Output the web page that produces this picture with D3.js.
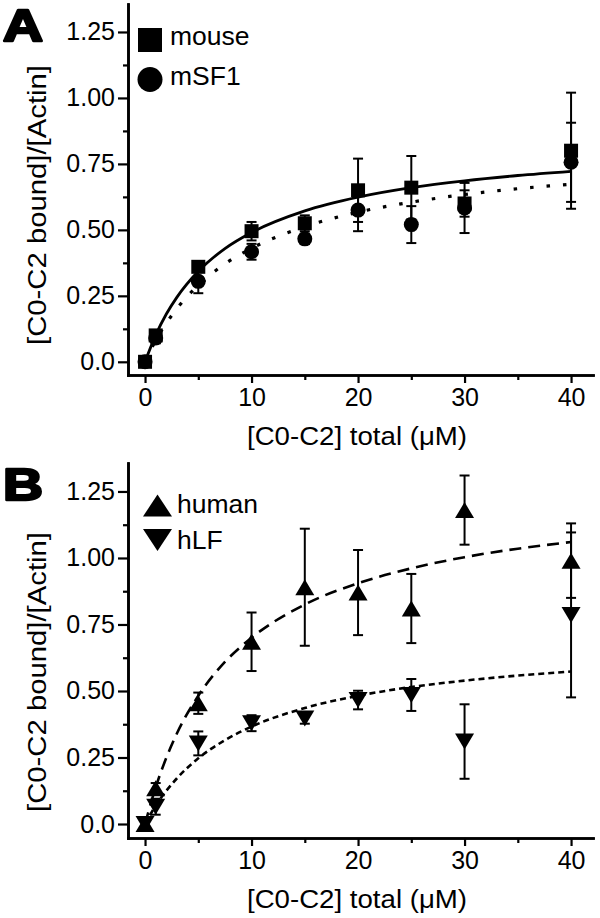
<!DOCTYPE html>
<html><head><meta charset="utf-8">
<script src="https://cdn.jsdelivr.net/npm/d3@7"></script>
<style>body{margin:0;background:#fff} text{font-family:"Liberation Sans",Arial,sans-serif;fill:#000}</style>
</head><body><svg id="c" width="600" height="918"></svg>
<script>
// ---- data ----
const conc = [0, 1, 5, 10, 15, 20, 25, 30, 40];
const mouseY   = [0, 0.10, 0.36, 0.495, 0.525, 0.65, 0.66, 0.60, 0.80];
const mouseErr = [0, 0.02, 0.02, 0.035, 0.03, 0.12, 0.12, 0.05, 0.22];
const msf1Y    = [0, 0.09, 0.305, 0.417, 0.466, 0.575, 0.52, 0.583, 0.756];
const msf1Err  = [0, 0.02, 0.045, 0.03, 0.02, 0.08, 0.07, 0.095, 0.15];
const humanY   = [0, 0.134, 0.454, 0.685, 0.89, 0.87, 0.81, 1.18, 0.99];
const humanErr = [0, 0.02, 0.04, 0.11, 0.22, 0.16, 0.13, 0.13, 0.14];
const hlfY     = [0, 0.065, 0.303, 0.379, 0.397, 0.466, 0.485, 0.31, 0.786];
const hlfErr   = [0, 0.03, 0.045, 0.03, 0.02, 0.035, 0.06, 0.14, 0.31];

// fitted curves
const fitX      = [0, 1, 2, 3, 5, 7.5, 10, 15, 20, 25, 30, 35, 40];
const mouseFit  = [0, 0.101, 0.181, 0.245, 0.343, 0.429, 0.490, 0.572, 0.624, 0.660, 0.686, 0.706, 0.722];
const msf1Fit   = [0, 0.081, 0.147, 0.202, 0.290, 0.371, 0.430, 0.512, 0.567, 0.605, 0.634, 0.656, 0.673];
const humanFit  = [0, 0.138, 0.249, 0.341, 0.482, 0.609, 0.700, 0.825, 0.905, 0.961, 1.003, 1.035, 1.060];
const hlfFit    = [0, 0.069, 0.125, 0.172, 0.247, 0.315, 0.366, 0.436, 0.482, 0.515, 0.539, 0.558, 0.573];

const yTicks = [0, 0.25, 0.5, 0.75, 1.0, 1.25];
const yTickLabels = ["0.0", "0.25", "0.50", "0.75", "1.00", "1.25"];
const yMinor = [0.125, 0.375, 0.625, 0.875, 1.125];
const xTicks = [0, 10, 20, 30, 40];
const xMinor = [5, 15, 25, 35];
const xTitle = "[C0-C2] total (\u03BCM)";
const yTitle = "[C0-C2 bound]/[Actin]";
const panelLetters = ["A", "B"];
const seriesNamesA = ["mouse", "mSF1"];
const seriesNamesB = ["human", "hLF"];

// ---- layout ----
const svg = d3.select("#c");
const panels = [
  {letter: panelLetters[0], top: 4, bottom: 375, yDom: [-0.05, 1.356], yTitleC: 205,
   series: [
     {name: seriesNamesA[0], y: mouseY, err: mouseErr, fit: mouseFit, shape: "square", dash: null, lw: 2.8},
     {name: seriesNamesA[1], y: msf1Y, err: msf1Err, fit: msf1Fit, shape: "circle", dash: "3.5,13", lw: 3.2}
   ],
   legend: [{shape:"square", ly: 40, ty: 45}, {shape:"circle", ly: 79.5, ty: 85}], lx: 150, tx: 170},
  {letter: panelLetters[1], top: 463, bottom: 838, yDom: [-0.0526, 1.357], yTitleC: 672,
   series: [
     {name: seriesNamesB[0], y: humanY, err: humanErr, fit: humanFit, shape: "up", dash: "12,7", lw: 2.6},
     {name: seriesNamesB[1], y: hlfY, err: hlfErr, fit: hlfFit, shape: "down", dash: "6,4", lw: 2.6}
   ],
   legend: [{shape:"up", ly: 505.5, ty: 513}, {shape:"down", ly: 540, ty: 549}], lx: 157.5, tx: 177}
];

function drawShape(g, shape, cx, cy, big) {
  if (shape === "square") {
    const s = big ? 24 : 14;
    g.append("rect").attr("x", cx - s/2).attr("y", cy - s/2).attr("width", s).attr("height", s).attr("fill", "#000");
  } else if (shape === "circle") {
    g.append("circle").attr("cx", cx).attr("cy", cy).attr("r", big ? 12.5 : 7.5).attr("fill", "#000");
  } else {
    const w = big ? 29 : 19, h = big ? 22 : 16;
    const p = d3.path();
    if (shape === "up") {
      p.moveTo(cx, cy - h/2); p.lineTo(cx + w/2, cy + h/2); p.lineTo(cx - w/2, cy + h/2);
    } else {
      p.moveTo(cx, cy + h/2); p.lineTo(cx + w/2, cy - h/2); p.lineTo(cx - w/2, cy - h/2);
    }
    p.closePath();
    g.append("path").attr("d", p.toString()).attr("fill", "#000");
  }
}

panels.forEach(P => {
  const x = d3.scaleLinear().domain([-1.6, 42.06]).range([128, 593]);
  const y = d3.scaleLinear().domain(P.yDom).range([P.bottom, P.top]);
  const g = svg.append("g");

  // axes
  const yAx = g.append("g").attr("transform", "translate(128,0)")
    .call(d3.axisLeft(y).tickValues(yTicks).tickSize(10).tickSizeOuter(0).tickPadding(3)
      .tickFormat((d, i) => yTickLabels[i]));
  const yMin = g.append("g").attr("transform", "translate(128,0)")
    .call(d3.axisLeft(y).tickValues(yMinor).tickSize(5).tickSizeOuter(0).tickFormat(""));
  const xAx = g.append("g").attr("transform", `translate(0,${P.bottom})`)
    .call(d3.axisBottom(x).tickValues(xTicks).tickSize(8).tickSizeOuter(0).tickPadding(5));
  const xMin = g.append("g").attr("transform", `translate(0,${P.bottom})`)
    .call(d3.axisBottom(x).tickValues(xMinor).tickSize(5).tickSizeOuter(0).tickFormat(""));
  [yAx, yMin, xAx, xMin].forEach(a => {
    a.selectAll("path.domain").attr("stroke", "#000").attr("stroke-width", 2.6).attr("stroke-linecap", "square");
    a.selectAll(".tick line").attr("stroke", "#000").attr("stroke-width", 2.2);
    a.selectAll(".tick text").attr("font-size", 25).attr("fill", "#000")
      .style("font-family", '"Liberation Sans",Arial,sans-serif');
  });

  // titles
  g.append("text").attr("x", 357).attr("y", P.bottom + 70).attr("text-anchor", "middle")
    .attr("font-size", 26.5).attr("textLength", 220).attr("lengthAdjust", "spacingAndGlyphs").text(xTitle);
  g.append("text").attr("transform", `translate(45.5,${P.yTitleC}) rotate(-90)`).attr("text-anchor", "middle")
    .attr("font-size", 26.5).attr("textLength", 280).attr("lengthAdjust", "spacingAndGlyphs").text(yTitle);
  g.append("text").attr("x", 3).attr("y", P.top + 37).attr("font-size", 44).attr("font-weight", "bold")
    .attr("stroke", "#000").attr("stroke-width", 2.4).attr("stroke-linejoin", "round")
    .attr("textLength", 40).attr("lengthAdjust", "spacingAndGlyphs").text(P.letter);

  // fit curves
  const line = d3.line().x((d, i) => x(fitX[i])).y(d => y(d)).curve(d3.curveMonotoneX);
  P.series.forEach(S => {
    g.append("path").attr("d", line(S.fit)).attr("fill", "none").attr("stroke", "#000")
      .attr("stroke-width", S.lw).attr("stroke-dasharray", S.dash);
  });

  // error bars
  P.series.forEach(S => {
    const eb = g.append("g").attr("stroke", "#000").attr("stroke-width", 2);
    conc.forEach((c, i) => {
      if (S.err[i] <= 0) return;
      const cx = x(c), y1 = y(S.y[i] + S.err[i]), y2 = y(S.y[i] - S.err[i]);
      eb.append("line").attr("x1", cx).attr("x2", cx).attr("y1", y1).attr("y2", y2);
      eb.append("line").attr("x1", cx - 5).attr("x2", cx + 5).attr("y1", y1).attr("y2", y1);
      eb.append("line").attr("x1", cx - 5).attr("x2", cx + 5).attr("y1", y2).attr("y2", y2);
    });
  });

  // markers
  P.series.forEach(S => {
    const mg = g.append("g");
    conc.forEach((c, i) => drawShape(mg, S.shape, x(c), y(S.y[i]), false));
  });

  // legend
  P.legend.forEach((L, i) => {
    drawShape(g, L.shape, P.lx, L.ly, true);
    g.append("text").attr("x", P.tx).attr("y", L.ty).attr("font-size", 26.5).text(P.series[i].name);
  });
});
</script></body></html>
